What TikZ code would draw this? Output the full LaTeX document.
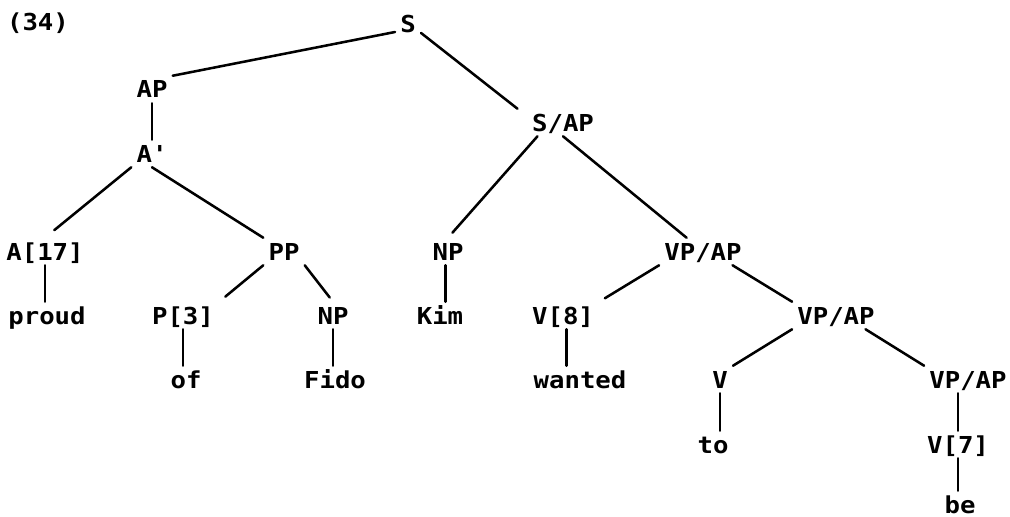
\documentclass[tikz,border=0pt]{standalone}
\usepackage{fontspec}
\setmonofont[FakeStretch=1.1]{DejaVu Sans Mono}

\tikzset{every picture/.style={line width=1.9pt}}
\tikzset{
  cat/.style={font=\ttfamily\bfseries\fontsize{17.5}{19}\selectfont, inner sep=3pt,
    text height=12.75pt, text depth=0pt, anchor=base},
  branch/.style={line width=1.9pt, line cap=round}
}

\begin{document}
\begin{tikzpicture}[x=0.75pt,y=0.75pt,yscale=-1,xscale=1]
\useasboundingbox (0,0) rectangle (1010,517);

% Text Node
\node [cat] (num) at (38,31) {(34)};
% Text Node
\node [cat] (s) at (408,33) {S};
\node [cat] (ap) at (152,98) {AP};
\node [cat] (abar) at (152,162) {A'};
\node [cat] (sap) at (563,131) {S/AP};
% Text Node
\node [cat] (a17) at (45,260) {A[17]};
\node [cat] (pp) at (284,260) {PP};
\node [cat] (np1) at (448,260) {NP};
\node [cat] (vpap1) at (703,260) {VP/AP};
% Text Node
\node [cat] (proud) at (47,324) {proud};
\node [cat] (p3) at (183,324) {P[3]};
\node [cat] (np2) at (333,324) {NP};
\node [cat] (kim) at (440,324) {Kim};
\node [cat] (v8) at (563,324) {V[8]};
\node [cat] (vpap2) at (836,324) {VP/AP};
% Text Node
\node [cat] (of) at (186,388) {of};
\node [cat] (fido) at (335,388) {Fido};
\node [cat] (wanted) at (580,388) {wanted};
\node [cat] (v) at (720,388) {V};
\node [cat] (vpap3) at (968,388) {VP/AP};
% Text Node
\node [cat] (to) at (713,453) {to};
\node [cat] (v7) at (958,453) {V[7]};
\node [cat] (be) at (960,513) {be};

%Straight Lines
\draw [branch] (s.210) -- (ap.north east);
\draw [branch] (s.-33) -- ([xshift=-7pt]sap.north west);
\draw [branch] (ap.south) -- (abar.north);
\draw [branch, shorten >=9pt] (abar.south west) -- (a17.north);
\draw [branch] (abar.south) -- (pp.north west);
\draw [branch] (a17.south) -- (a17.south |- proud.north);
\draw [branch, shorten >=6pt] (pp.south west) -- (p3.north east);
\draw [branch, shorten >=4pt] (pp.south east) -- (np2.north);
\draw [branch] (p3.south) -- (p3.south |- of.north);
\draw [branch] (np2.south) -- (np2.south |- fido.north);
\draw [branch, shorten >=5pt] ([xshift=8pt]sap.south west) -- (np1.north);
\draw [branch] (sap.south) -- (vpap1.140);
\draw [branch] (np1.-100) -- (np1.-100 |- kim.north);
\draw [branch, shorten >=5pt] (vpap1.south west) -- (v8.north east);
\draw [branch] (vpap1.-25) -- (vpap2.north west);
\draw [branch] (v8.-75) -- (v8.-75 |- wanted.north);
\draw [branch] (vpap2.south west) -- (v.north east);
\draw [branch] (vpap2.-25) -- (vpap3.north west);
\draw [branch] (v.south) -- (v.south |- to.north);
\draw [branch] (vpap3.south -| v7.north) -- (v7.north);
\draw [branch] (v7.south) -- (v7.south |- be.north);

\end{tikzpicture}
\end{document}
